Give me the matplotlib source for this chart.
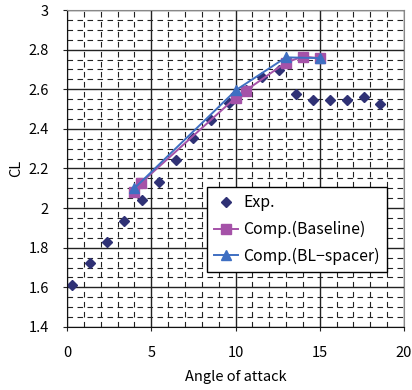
import matplotlib
matplotlib.use("Agg")
import matplotlib.pyplot as plt
from matplotlib.ticker import MultipleLocator

plt.rcParams['font.family'] = ['Noto Sans CJK JP', 'DejaVu Sans']

exp_x = [0.3, 1.35, 2.4, 3.4, 4.45, 5.45, 6.45, 7.5, 8.55, 9.6, 10.6, 11.6, 12.6, 13.6, 14.6, 15.6, 16.6, 17.6, 18.6]
exp_y = [1.61, 1.725, 1.828, 1.937, 2.04, 2.133, 2.245, 2.355, 2.447, 2.53, 2.595, 2.664, 2.698, 2.578, 2.548, 2.548, 2.548, 2.56, 2.527]

base_x = [4.0, 4.4, 10.0, 10.6, 13.0, 14.0, 15.0]
base_y = [2.08, 2.128, 2.557, 2.593, 2.735, 2.765, 2.757]

bl_x = [4.0, 10.05, 13.0, 15.0]
bl_y = [2.10, 2.597, 2.761, 2.757]

x_ticks = [0, 5, 10, 15, 20]
y_ticks = [1.4, 1.6, 1.8, 2.0, 2.2, 2.4, 2.6, 2.8, 3.0]
y_labels = ['1.4', '1.6', '1.8', '2', '2.2', '2.4', '2.6', '2.8', '3']

fig = plt.figure(figsize=(4.12, 3.9), dpi=100)
ax = fig.add_axes([67/412, 1-327/390, 337/412, 317/390])

ax.set_xlim(0, 20)
ax.set_ylim(1.4, 3.0)
ax.set_xticks(x_ticks)
ax.set_xticklabels([str(t) for t in x_ticks])
ax.set_yticks(y_ticks)
ax.set_yticklabels(y_labels)
ax.xaxis.set_minor_locator(MultipleLocator(1))
ax.yaxis.set_minor_locator(MultipleLocator(0.05))

ax.grid(which='major', color='#222222', linewidth=1.0, linestyle='-')
ax.grid(which='minor', color='#222222', linewidth=0.8, linestyle=(0, (5, 4)))
ax.set_axisbelow(True)

ax.tick_params(which='major', length=3, direction='out', labelsize=10.5, color='#222222')
ax.tick_params(axis='x', which='major', pad=11)
ax.tick_params(axis='y', which='major', pad=10)
ax.tick_params(which='minor', length=0)
for side in ['left', 'bottom']:
    ax.spines[side].set_color('#111111')
for side in ['right', 'top']:
    ax.spines[side].set_color('#888888')

ax.plot(exp_x, exp_y, linestyle='none', marker='D', markersize=4.8,
        color='#2F3175', label='Exp.')
ax.plot(base_x, base_y, linestyle='-', linewidth=1.4, marker='s', markersize=6.5,
        color='#A552A8', label='Comp.(Baseline)')
ax.plot(bl_x, bl_y, linestyle='-', linewidth=1.4, marker='^', markersize=7,
        color='#3F6FC2', label='Comp.(BL\u2212spacer)')

leg = ax.legend(loc='lower right', bbox_to_anchor=((387-67)/337, (327-272)/317),
                frameon=True, fancybox=False, framealpha=1.0, edgecolor='black',
                fontsize=11.4, handlelength=1.5, handletextpad=0.35,
                borderpad=0.45, labelspacing=0.6, borderaxespad=0)
leg.get_frame().set_linewidth(1.0)

ax.set_xlabel('Angle of attack', fontsize=10.5, labelpad=7)
ax.set_ylabel('CL', fontsize=10.5, labelpad=4)

fig.savefig('out.png', dpi=100)
